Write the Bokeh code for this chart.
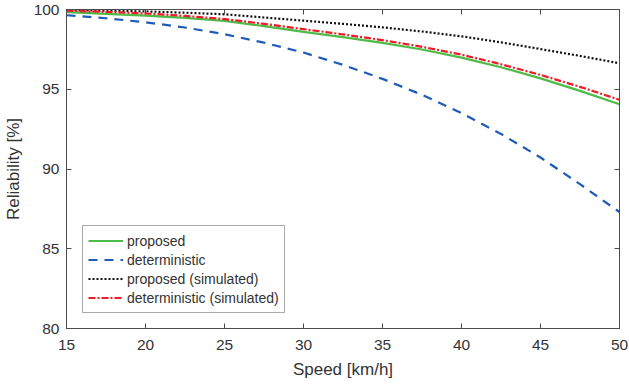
from bokeh.plotting import figure
from bokeh.models import Range1d, FixedTicker, LinearAxis, Legend, LegendItem
from bokeh.embed import file_html
from bokeh.resources import INLINE

speed = [15, 17.5, 20, 22.5, 25, 27.5, 30, 32.5, 35, 37.5, 40, 42.5, 45, 47.5, 50]
proposed = [99.83, 99.73, 99.62, 99.48, 99.29, 98.96, 98.60, 98.27, 97.91,
            97.49, 96.98, 96.38, 95.68, 94.90, 94.06]
deterministic = [99.64, 99.45, 99.20, 98.87, 98.45, 97.92, 97.30, 96.53, 95.65,
                 94.65, 93.50, 92.20, 90.72, 89.05, 87.30]
proposed_sim = [99.97, 99.93, 99.88, 99.80, 99.70, 99.50, 99.30, 99.10, 98.88,
                98.62, 98.32, 97.94, 97.52, 97.09, 96.63]
deterministic_sim = [99.93, 99.85, 99.75, 99.60, 99.40, 99.10, 98.77, 98.44, 98.08,
                     97.66, 97.17, 96.57, 95.90, 95.15, 94.34]

x_ticks = [15, 20, 25, 30, 35, 40, 45, 50]
y_ticks = [80, 85, 90, 95, 100]

FONT = "Liberation Sans"
TXT = "#333333"
AX = "#4d4d4d"

p = figure(width=629, height=385, output_backend="svg", toolbar_location=None,
           x_range=Range1d(15, 50), y_range=Range1d(80, 100),
           min_border_left=63, min_border_right=10, min_border_top=9, min_border_bottom=57,
           x_axis_label="Speed [km/h]", y_axis_label="Reliability [%]")
p.grid.visible = False
p.outline_line_color = AX
p.background_fill_color = "white"
p.border_fill_color = "white"

for ax, ticks in ((p.xaxis[0], x_ticks), (p.yaxis[0], y_ticks)):
    ax.ticker = FixedTicker(ticks=ticks)
    ax.major_tick_in = 5
    ax.major_tick_out = 0
    ax.minor_tick_line_color = None
    ax.axis_line_color = AX
    ax.major_tick_line_color = AX
    ax.major_label_text_font = FONT
    ax.major_label_text_font_size = "15.5px"
    ax.major_label_text_color = TXT
    ax.axis_label_text_font = FONT
    ax.axis_label_text_font_size = "17px"
    ax.axis_label_text_font_style = "normal"
    ax.axis_label_text_color = TXT

p.xaxis[0].major_label_standoff = 11
p.xaxis[0].axis_label_standoff = 7
p.yaxis[0].major_label_standoff = 7
p.yaxis[0].axis_label_standoff = 8

top = LinearAxis(ticker=FixedTicker(ticks=x_ticks),
                 major_label_overrides={t: "" for t in x_ticks},
                 major_label_standoff=0, major_tick_in=5, major_tick_out=0,
                 minor_tick_line_color=None, axis_line_color=AX, major_tick_line_color=AX)
right = LinearAxis(ticker=FixedTicker(ticks=y_ticks),
                   major_label_overrides={t: "" for t in y_ticks},
                   major_label_standoff=0, major_tick_in=5, major_tick_out=0,
                   minor_tick_line_color=None, axis_line_color=AX, major_tick_line_color=AX)
p.add_layout(top, "above")
p.add_layout(right, "right")

r1 = p.line(speed, proposed, line_color="#4cbb47", line_width=2.2)
r2 = p.line(speed, deterministic, line_color="#1f5cb8", line_width=2.2, line_dash="9 7")
r3 = p.line(speed, proposed_sim, line_color="#111111", line_width=2.2, line_dash="2 2")
r4 = p.line(speed, deterministic_sim, line_color="#ee1c25", line_width=2.2, line_dash="7 2 2 2")

legend = Legend(items=[
    LegendItem(label="proposed", renderers=[r1]),
    LegendItem(label="deterministic", renderers=[r2]),
    LegendItem(label="proposed (simulated)", renderers=[r3]),
    LegendItem(label="deterministic (simulated)", renderers=[r4]),
], location=(16, 15))
legend.label_text_font = FONT
legend.label_text_font_size = "14px"
legend.label_text_color = TXT
legend.glyph_width = 35
legend.glyph_height = 19
legend.label_height = 19
legend.label_standoff = 4
legend.spacing = 0
legend.padding = 5
legend.margin = 0
legend.border_line_color = "#555555"
legend.border_line_width = 1
legend.background_fill_color = "white"
legend.background_fill_alpha = 1
p.add_layout(legend, "center")

open("out.html", "w").write(file_html(p, INLINE))
